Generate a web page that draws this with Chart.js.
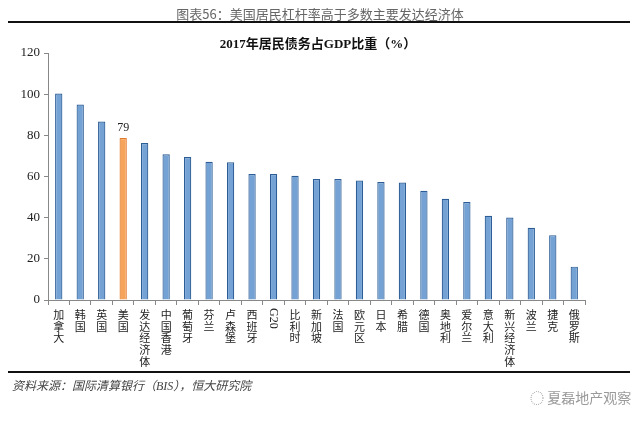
<!DOCTYPE html>
<html>
<head>
<meta charset="utf-8">
<script src="https://cdn.jsdelivr.net/npm/chart.js@4.4.1/dist/chart.umd.min.js"></script>
<style>
  body { margin: 0; background: #fff; }
  #wrap { position: relative; width: 640px; height: 423px; overflow: hidden; }
  #chart { position: absolute; left: 0; top: 0; }
  .txt { position: absolute; white-space: nowrap; }
  #header { top: 4px; left: 0; width: 640px; text-align: center; font: 13px "Noto Sans CJK SC"; color: #666; }
  #topline { top: 21px; left: 8px; width: 622px; height: 2px; background: #111; }
  #title { top: 33px; left: 0; width: 636px; text-align: center; font: bold 13px "Liberation Serif", "Noto Sans CJK SC"; color: #111; }
  #botline { top: 371px; left: 8px; width: 622px; height: 2px; background: #111; }
  #source { top: 376px; left: 12px; font: italic 12px "Liberation Serif", "Noto Sans CJK SC"; color: #444; }
  #mark { top: 387px; left: 530px; font: 14px "Noto Sans CJK SC"; color: #9a9a9a; }
</style>
</head>
<body>
<div id="wrap">
  <canvas id="chart" width="640" height="423"></canvas>
  <div id="header" class="txt">图表56：美国居民杠杆率高于多数主要发达经济体</div>
  <div id="topline" class="txt"></div>
  <div id="title" class="txt">2017年居民债务占GDP比重（%）</div>
  <div id="botline" class="txt"></div>
  <div id="source" class="txt">资料来源：国际清算银行（BIS），恒大研究院</div>
  <div id="mark" class="txt">◌ 夏磊地产观察</div>
</div>
<script>
// Data
const countries = ["加拿大", "韩国", "英国", "美国", "发达经济体", "中国香港", "葡萄牙", "芬兰", "卢森堡", "西班牙",
  "G20", "比利时", "新加坡", "法国", "欧元区", "日本", "希腊", "德国", "奥地利", "爱尔兰",
  "意大利", "新兴经济体", "波兰", "捷克", "俄罗斯"];
const debtRatio = [100.3, 95, 86.7, 78.7, 76.3, 70.8, 69.5, 67.2, 66.9, 61.2,
  61.2, 60.4, 58.8, 58.8, 58.0, 57.3, 57.1, 53.1, 49.2, 47.6,
  40.9, 40.1, 35.1, 31.5, 16.2];
const yTicks = [0, 20, 40, 60, 80, 100, 120];
const highlight = "美国";

const fills = countries.map((c) => c === highlight ? "#f6a45c" : "#74a2d4");
const borders = countries.map((c) => c === highlight ? "#e07a2c" : "#2c5d96");

// Vertical category labels + the one value label
const labelPlugin = {
  id: "labels",
  afterDraw(chart) {
    const ctx = chart.ctx;
    const xs = chart.scales.x;
    ctx.save();
    ctx.fillStyle = "#222";
    ctx.textAlign = "center";
    ctx.textBaseline = "middle";
    countries.forEach((name, i) => {
      const x = xs.getPixelForValue(i);
      if (name === "G20") {
        ctx.save();
        ctx.translate(x, 308);
        ctx.rotate(Math.PI / 2);
        ctx.textAlign = "left";
        ctx.font = "12px 'Liberation Serif'";
        ctx.fillText(name, 0, 0);
        ctx.restore();
        return;
      }
      ctx.font = "11px 'Noto Sans CJK SC'";
      [...name].forEach((ch, j) => ctx.fillText(ch, x, 315 + j * 11.6));
    });
    // value label on the highlighted bar
    const idx = countries.indexOf(highlight);
    const bar = chart.getDatasetMeta(0).data[idx];
    ctx.font = "12px 'Liberation Serif'";
    ctx.textBaseline = "bottom";
    ctx.fillText(Math.round(debtRatio[idx]), bar.x, bar.y - 4);
    ctx.restore();
  }
};

new Chart(document.getElementById("chart"), {
  type: "bar",
  data: {
    labels: countries,
    datasets: [{
      data: debtRatio,
      backgroundColor: fills,
      borderColor: borders,
      borderWidth: 1.2,
      barPercentage: 0.34,
      categoryPercentage: 1
    }]
  },
  options: {
    responsive: false,
    animation: false,
    layout: { padding: { top: 53, right: 55, bottom: 0, left: 0 } },
    plugins: { legend: { display: false }, tooltip: { enabled: false }, title: { display: false } },
    scales: {
      x: {
        afterFit: (s) => { s.height = 123; },
        ticks: { display: false },
        grid: { offset: true, drawOnChartArea: false, drawTicks: true, tickLength: 5, color: "#888" },
        border: { color: "#888", width: 1 }
      },
      y: {
        min: 0,
        max: 120,
        afterFit: (s) => { s.width = 48; },
        afterBuildTicks: (s) => { s.ticks = yTicks.map((v) => ({ value: v })); },
        ticks: { color: "#222", padding: 4, font: { family: "Liberation Serif", size: 13 } },
        grid: { drawOnChartArea: false, drawTicks: true, tickLength: 4, color: "#888" },
        border: { color: "#888", width: 1 }
      }
    }
  },
  plugins: [labelPlugin]
});
</script>
</body>
</html>
